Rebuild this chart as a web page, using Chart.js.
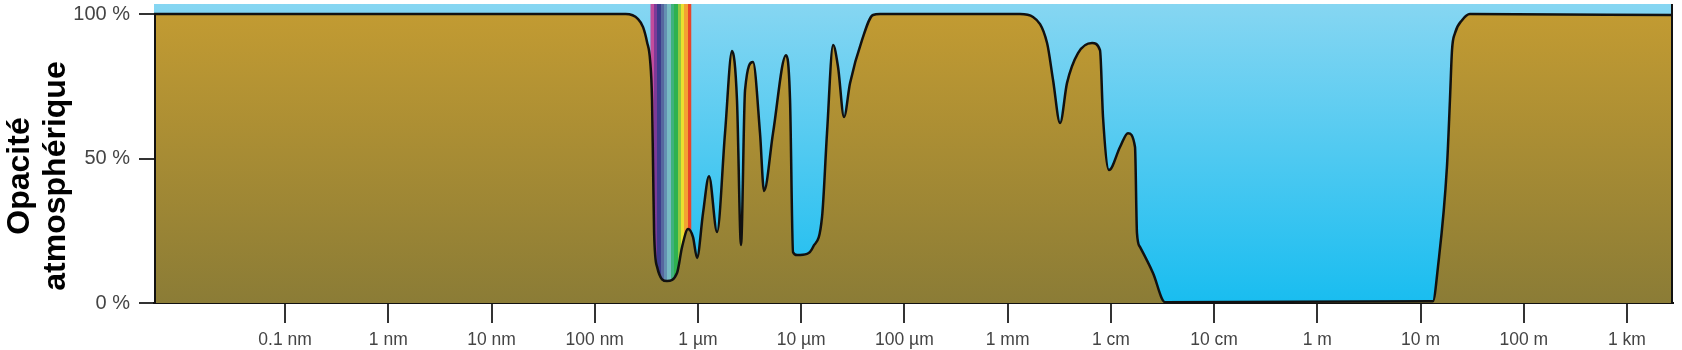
<!DOCTYPE html>
<html>
<head>
<meta charset="utf-8">
<script src="https://cdn.jsdelivr.net/npm/chart.js@4.4.0/dist/chart.umd.min.js"></script>
<style>
  html, body { margin: 0; padding: 0; background: #fff; }
</style>
</head>
<body>
<canvas id="chart" width="1682" height="350"></canvas>
<script>
// wavelength as log10(metres), opacity in %
const wavelengthLog = [
  -11.27, -7.2, -6.70, -6.58, -6.532, -6.493, -6.464, -6.445, -6.435, -6.425, -6.396, -6.300,
  -6.203, -6.154, -6.096, -6.048, -6.009, -5.951, -5.893, -5.815, -5.738, -5.670,
  -5.622, -5.583, -5.544, -5.467, -5.399, -5.360, -5.273, -5.147, -5.108, -5.079,
  -5.040, -4.943, -4.885, -4.798, -4.750, -4.691, -4.643, -4.585, -4.527, -4.411,
  -4.304, -4.236, -2.880, -2.754, -2.618, -2.560, -2.492, -2.425, -2.318, -2.182,
  -2.105, -2.076, -2.018, -1.911, -1.834, -1.766, -1.747, -1.718, -1.592, -1.475,
  1.120, 1.169, 1.256, 1.285, 1.305, 1.334, 1.402, 1.479, 3.446
];
const opacity = [
  100, 100, 100, 98.3, 95.5, 90.3, 84.1, 70.2, 47.1, 24.2, 12.5, 7.6,
  10.4, 19.4, 25.6, 22.8, 15.6, 31.1, 43.9, 24.6, 58.8, 87.2,
  70.2, 20.1, 73.7, 83.4, 58.8, 38.8, 58.8, 85.8, 70.2, 17.6,
  16.6, 17.0, 19.4, 29.8, 58.8, 89.3, 81.7, 64.4, 76.1, 91.0,
  99.7, 100, 100, 99, 90, 77.2, 62.3, 76.1, 86.5, 90,
  87.5, 64.4, 46.0, 54.0, 58.8, 54.0, 24.2, 19.4, 10.4, 0.3,
  0.6, 12.5, 47.1, 70.2, 87.5, 93.4, 97.9, 100, 99.7
];

const tickValues = [-10, -9, -8, -7, -6, -5, -4, -3, -2, -1, 0, 1, 2, 3];
const tickLabels = ["0.1 nm", "1 nm", "10 nm", "100 nm", "1 µm", "10 µm", "100 µm",
                    "1 mm", "1 cm", "10 cm", "1 m", "10 m", "100 m", "1 km"];
const yTicks = [0, 50, 100];
const visibleBand = [-6.46, -6.065];
const spectrumColors = ["#c24c9c", "#7d3a98", "#3d3b8c", "#56679f", "#6490b2", "#78bcc4",
                        "#3eb27e", "#2fb14f", "#93c940", "#e9e02f", "#f2a233", "#e8452a"];

const FONT = "'Liberation Sans', Arial, sans-serif";

const backdrop = {
  id: "backdrop",
  beforeDatasetsDraw(chart) {
    const { ctx, chartArea: a, scales: { x } } = chart;
    ctx.save();
    const sky = ctx.createLinearGradient(0, a.top, 0, a.bottom);
    sky.addColorStop(0, "#86d6f2");
    sky.addColorStop(1, "#19bdf0");
    ctx.fillStyle = sky;
    ctx.fillRect(a.left, a.top, a.width, a.height);

    // visible light stripes
    const x0 = x.getPixelForValue(visibleBand[0]);
    const x1 = x.getPixelForValue(visibleBand[1]);
    const n = spectrumColors.length;
    const rb = ctx.createLinearGradient(x0, 0, x1, 0);
    spectrumColors.forEach((c, i) => {
      rb.addColorStop(i / n, c);
      rb.addColorStop((i + 1) / n, c);
    });
    ctx.fillStyle = rb;
    ctx.fillRect(x0, a.top, x1 - x0, a.height);
    ctx.restore();
  },
  afterDraw(chart) {
    const { ctx, chartArea: a, scales: { y } } = chart;
    ctx.save();
    ctx.strokeStyle = "#111";
    ctx.lineWidth = 2;
    ctx.beginPath();
    ctx.moveTo(a.left + 1, y.getPixelForValue(opacity[0]));
    ctx.lineTo(a.left + 1, a.bottom);
    ctx.moveTo(a.right - 1, a.top);
    ctx.lineTo(a.right - 1, a.bottom);
    ctx.stroke();

    ctx.translate(38, 176);
    ctx.rotate(-Math.PI / 2);
    ctx.fillStyle = "#000";
    ctx.font = "bold 32px " + FONT;
    ctx.textAlign = "center";
    ctx.textBaseline = "middle";
    ctx.fillText("Opacité", 0, -18);
    ctx.fillText("atmosphérique", 0, 18);
    ctx.restore();
  }
};

new Chart(document.getElementById("chart"), {
  type: "line",
  data: {
    datasets: [{
      data: wavelengthLog.map((v, i) => ({ x: v, y: opacity[i] })),
      borderColor: "#111",
      borderWidth: 2.5,
      pointRadius: 0,
      cubicInterpolationMode: "monotone",
      fill: "origin",
      backgroundColor: (c) => {
        const a = c.chart.chartArea;
        if (!a) return "#a8913a";
        const g = c.chart.ctx.createLinearGradient(0, a.top, 0, a.bottom);
        g.addColorStop(0, "#c49c32");
        g.addColorStop(1, "#8b7c36");
        return g;
      }
    }]
  },
  options: {
    responsive: false,
    animation: false,
    devicePixelRatio: 1,
    layout: { padding: { top: 4, right: 9, left: 0, bottom: 0 } },
    plugins: { legend: { display: false }, tooltip: { enabled: false } },
    scales: {
      x: {
        type: "linear",
        min: -11.27,
        max: 3.446,
        afterBuildTicks: (s) => { s.ticks = tickValues.map(v => ({ value: v })); },
        afterFit: (s) => { s.height = 47; s.paddingLeft = 0; s.paddingRight = 0; },
        ticks: {
          autoSkip: false,
          maxRotation: 0,
          padding: 7,
          color: "#444",
          font: { family: FONT, size: 17.5 },
          callback: (v) => tickLabels[tickValues.indexOf(v)]
        },
        grid: { drawOnChartArea: false, tickLength: 20, color: "#333", lineWidth: 2 },
        border: { display: true, color: "#111", width: 2 }
      },
      y: {
        min: 0,
        max: 103.5,
        afterBuildTicks: (s) => { s.ticks = yTicks.map(v => ({ value: v })); },
        afterFit: (s) => { s.width = 154; s.paddingTop = 0; s.paddingBottom = 0; },
        ticks: {
          padding: 9,
          color: "#444",
          font: { family: FONT, size: 20 },
          callback: (v) => v + " %"
        },
        grid: { drawOnChartArea: false, tickLength: 15, color: "#333", lineWidth: 2 },
        border: { display: false }
      }
    }
  },
  plugins: [backdrop]
});
</script>
</body>
</html>
